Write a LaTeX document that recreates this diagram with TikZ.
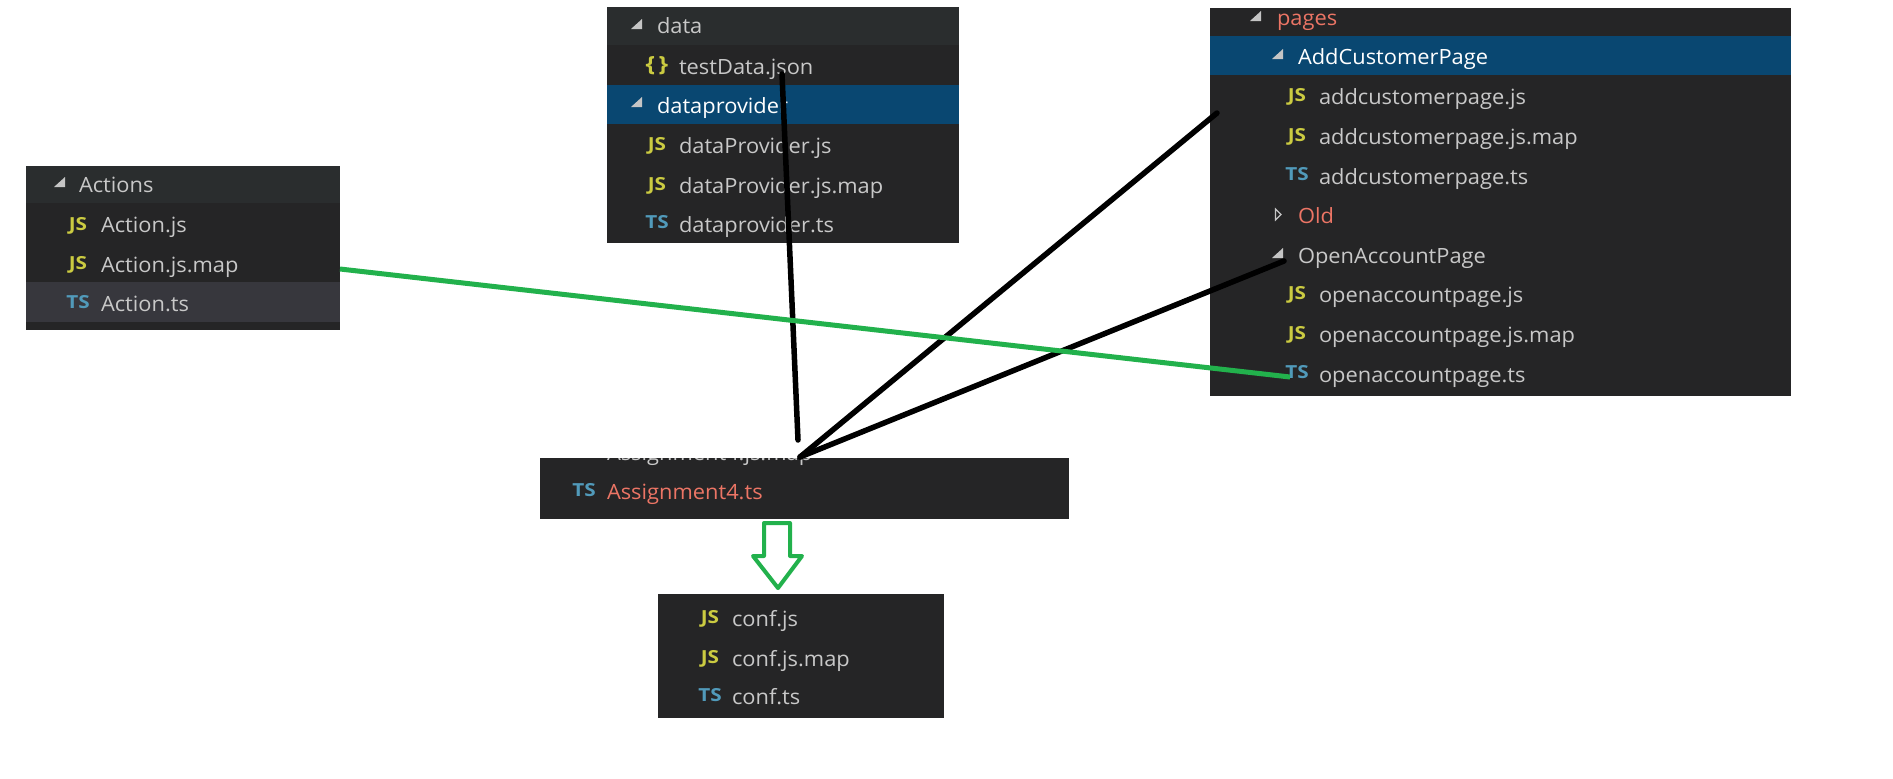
\documentclass[tikz,border=0pt]{standalone}
\usepackage{fontspec}
\setmainfont[FakeStretch=1.04]{Open Sans}
\newfontfamily\iconfont[FakeStretch=1.15]{Open Sans}
\definecolor{panelbg}{HTML}{252526}
\definecolor{headbg}{HTML}{2A2D2E}
\definecolor{selbg}{HTML}{094771}
\definecolor{hovbg}{HTML}{37373D}
\definecolor{txt}{HTML}{C8C8C8}
\definecolor{modif}{HTML}{EC7565}
\definecolor{jsc}{HTML}{CBCB41}
\definecolor{tsc}{HTML}{519ABA}
\definecolor{greenl}{HTML}{22B14C}
\definecolor{tri}{HTML}{C5C5C5}
\tikzset{
  x=1pt,y=-1pt,
  fname/.style={anchor=base west,inner sep=0pt,outer sep=0pt,text=txt,font=\fontsize{21}{24}\selectfont},
  mod/.style={fname,text=modif},
  sel/.style={fname,text=white},
  jsi/.style={anchor=base,inner sep=0pt,outer sep=0pt,text=jsc,yshift=1pt,font=\iconfont\fontsize{18}{20}\selectfont\bfseries},
  tsi/.style={jsi,text=tsc},
  brace/.style={jsi,font=\iconfont\fontsize{21}{24}\selectfont\bfseries},
  blk/.style={draw=black,line width=5.5pt,line cap=round},
  grn/.style={draw=greenl,line width=5pt},
  bigarrow/.style={draw=greenl,line width=4pt,line join=round},
}
\newcommand{\opentri}[2]{\fill[tri] (#1,#2) -- ++(0,10) -- ++(-11,0) -- cycle;}
\begin{document}
\begin{tikzpicture}
\useasboundingbox (0,0) rectangle (1893,779);
\fill[white] (0,0) rectangle (1893,779);
% Actions
\fill[panelbg] (26,166) rectangle (340,330);
\fill[headbg] (26,166) rectangle (340,203);
\fill[hovbg] (26,282) rectangle (340,322);
\opentri{65}{177}
\node[fname] (actions) at (79,192) {Actions};
\node[jsi] (ai1) at (78,231) {JS};
\node[fname] (a1) at (101,232) {Action.js};
\node[jsi] (ai2) at (78,270) {JS};
\node[fname] (a2) at (101,272) {Action.js.map};
\node[tsi] (ai3) at (78,309) {TS};
\node[fname] (a3) at (101,311) {Action.ts};
% data
\fill[panelbg] (607,7) rectangle (959,243);
\fill[headbg] (607,7) rectangle (959,45);
\fill[selbg] (607,85) rectangle (959,124);
\opentri{642}{19}
\node[fname] (data) at (657,33) {data};
\node[brace] (di0) at (657,72) {\{\,\}};
\node[fname] (d0) at (679,74) {testData.json};
\opentri{642}{97}
\node[sel] (dp) at (657,113) {dataprovider};
\node[jsi] (di1) at (657,151) {JS};
\node[fname] (d1) at (679,153) {dataProvider.js};
\node[jsi] (di2) at (657,191) {JS};
\node[fname] (d2) at (679,193) {dataProvider.js.map};
\node[tsi] (di3) at (657,229) {TS};
\node[fname] (d3) at (679,232) {dataprovider.ts};
% pages
\fill[panelbg] (1210,8) rectangle (1791,396);
\fill[selbg] (1210,36) rectangle (1791,75);
\opentri{1261}{11}
\node[mod] (pages) at (1277,25) {pages};
\opentri{1283}{49}
\node[sel] (add) at (1298,64) {AddCustomerPage};
\node[jsi] (pi1) at (1297,102) {JS};
\node[fname] (p1) at (1319,104) {addcustomerpage.js};
\node[jsi] (pi2) at (1297,142) {JS};
\node[fname] (p2) at (1319,144) {addcustomerpage.js.map};
\node[tsi] (pi3) at (1297,181) {TS};
\node[fname] (p3) at (1319,184) {addcustomerpage.ts};
\draw[tri,line width=1.2pt] (1275.5,209) -- (1281,214.5) -- (1275.5,220) -- cycle;
\node[mod] (old) at (1298,223) {Old};
\opentri{1283}{248}
\node[fname] (open) at (1298,263) {OpenAccountPage};
\node[jsi] (pi4) at (1297,300) {JS};
\node[fname] (p4) at (1319,302) {openaccountpage.js};
\node[jsi] (pi5) at (1297,340) {JS};
\node[fname] (p5) at (1319,342) {openaccountpage.js.map};
\node[tsi] (pi6) at (1297,379) {TS};
\node[fname] (p6) at (1319,382) {openaccountpage.ts};
% Assignment
\fill[panelbg] (540,458) rectangle (1069,519);
\begin{scope}
\clip (540,458) rectangle (1069,519);
\node[fname] (as0) at (607,460) {Assignment4.js.map};
\end{scope}
\node[tsi] (asi) at (584,497) {TS};
\node[mod] (as1) at (607,499) {Assignment4.ts};
% conf
\fill[panelbg] (658,594) rectangle (944,718);
\node[jsi] (ci1) at (710,624) {JS};
\node[fname] (c1) at (732,626) {conf.js};
\node[jsi] (ci2) at (710,664) {JS};
\node[fname] (c2) at (732,666) {conf.js.map};
\node[tsi] (ci3) at (710,702) {TS};
\node[fname] (c3) at (732,704) {conf.ts};
% connectors
\coordinate (gA) at (340,269);
\coordinate (gB) at (1290,377);
\coordinate (bA) at (782,74);
\coordinate (bB) at (798,440);
\coordinate (hub) at (800,457);
\coordinate (bC) at (1217,113);
\coordinate (bD) at (1284,261);
\draw[blk] (bA) -- (bB);
\draw[blk] (hub) -- (bC);
\draw[blk] (hub) -- (bD);
\draw[grn] (gA) -- (gB);
\draw[bigarrow] (764,523) -- (790,523) -- (790,556) -- (802,556) -- (778,588) -- (753,556) -- (764,556) -- cycle;
\end{tikzpicture}
\end{document}
